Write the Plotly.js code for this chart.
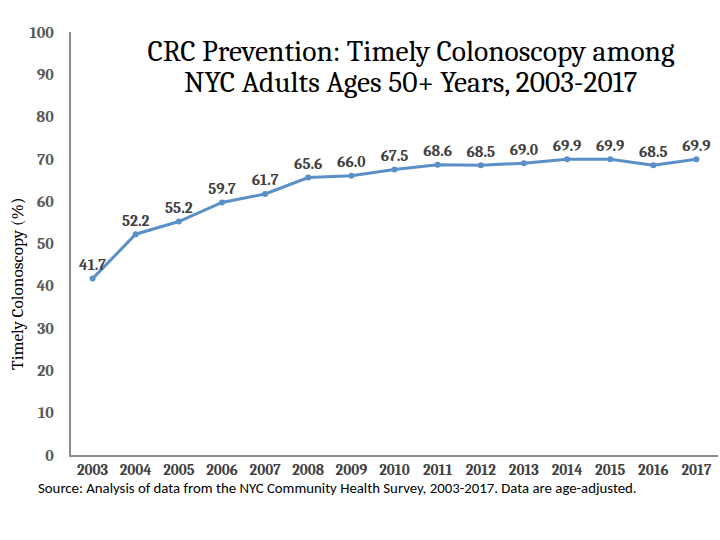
<!DOCTYPE html>
<html>
<head>
<meta charset="utf-8">
<script src="https://cdn.plot.ly/plotly-3.0.1.min.js"></script>
<style>html,body{margin:0;padding:0;background:#fff;}#chart{width:720px;height:540px;}</style>
</head>
<body>
<div id="chart"></div>
<script>
const years = ["2003","2004","2005","2006","2007","2008","2009","2010","2011","2012","2013","2014","2015","2016","2017"];
const values = [41.7,52.2,55.2,59.7,61.7,65.6,66.0,67.5,68.6,68.5,69.0,69.9,69.9,68.5,69.9];
const valueLabels = values.map(v => "<b>" + v.toFixed(1) + "</b>");
const titleLine1 = "CRC Prevention: Timely Colonoscopy among";
const titleLine2 = "NYC Adults Ages 50+ Years, 2003-2017";
const yTitle = "Timely Colonoscopy (%)";
const sourceText = "Source: Analysis of data from the NYC Community Health Survey, 2003-2017. Data are age-adjusted.";

const serif = "Cambria, Caladea, 'DejaVu Serif', serif";
const sans = "Calibri, Carlito, 'Liberation Sans', Arial, sans-serif";

const trace = {
  x: years, y: values, type: "scatter", mode: "lines+markers+text",
  text: valueLabels, textposition: "top center",
  textfont: {family: serif, size: 15.5, color: "#404040"},
  line: {color: "#5B8FC8", width: 3},
  marker: {color: "#5B8FC8", size: 6},
  hoverinfo: "skip", cliponaxis: false
};

const layout = {
  width: 720, height: 540,
  margin: {l: 71, r: 2, t: 32, b: 85},
  paper_bgcolor: "#fff", plot_bgcolor: "#fff",
  showlegend: false,
  title: {text: titleLine1, font: {family: serif, size: 29.5, color: "#000"},
          xref: "container", x: 411/720, xanchor: "center", yref: "container", y: 1 - 51/540, yanchor: "middle"},
  xaxis: {type: "category", range: [-0.5, 14.5], showgrid: false, zeroline: false,
          showline: true, linecolor: "#8C8C8C", linewidth: 2, ticks: "",
          tickfont: {family: serif, size: 15, color: "#404040", weight: "bold"}, fixedrange: true},
  yaxis: {range: [0, 100], dtick: 10, showgrid: false, zeroline: false,
          showline: true, linecolor: "#8C8C8C", linewidth: 2, ticks: "",
          ticklabelstandoff: 12,
          tickfont: {family: serif, size: 16, color: "#595959", weight: "bold"},
          fixedrange: true},
  annotations: [
    {text: titleLine2, xref: "paper", yref: "paper", x: (410-71)/647, y: (455-82)/423,
     xanchor: "center", yanchor: "middle", showarrow: false,
     font: {family: serif, size: 29.5, color: "#000"}},
    {text: yTitle, xref: "paper", yref: "paper", x: (17-71)/647, y: (455-284)/423,
     xanchor: "center", yanchor: "middle", textangle: -90, showarrow: false,
     font: {family: serif, size: 17.3, color: "#000"}},
    {text: sourceText, xref: "paper", yref: "paper", x: (36-71)/647, y: -(488-455)/423,
     xanchor: "left", yanchor: "middle", showarrow: false,
     font: {family: sans, size: 14.8, color: "#000"}}]
};
Plotly.newPlot("chart", [trace], layout, {displayModeBar: false, staticPlot: true});
</script>
</body>
</html>
